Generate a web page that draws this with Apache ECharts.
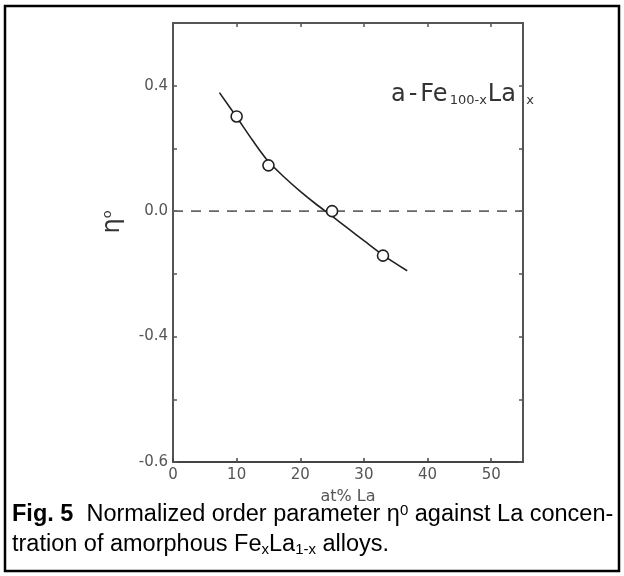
<!DOCTYPE html>
<html>
<head>
<meta charset="utf-8">
<script src="https://cdn.jsdelivr.net/npm/echarts@6/dist/echarts.min.js"></script>
<style>
html,body{margin:0;padding:0;background:#fff;}
#chart{width:624px;height:576px;}
</style>
</head>
<body>
<div id="chart"></div>
<script>
// Measured points (at% La, eta0)
const laConc = [10, 15, 25, 33];
const eta0 = [0.302, 0.146, 0.0, -0.142];
// Hand-drawn fit curve
const fitX = [7.3, 10, 12.5, 15, 17.5, 20, 22.5, 25, 27.5, 30, 33, 36.8];
const fitY = [0.378, 0.300, 0.226, 0.158, 0.108, 0.063, 0.022, -0.016, -0.055, -0.094, -0.140, -0.190];
// Dashed reference line at eta0 = 0
const zeroX = [0, 55];
const zeroY = [0, 0];
// Axis tick labels as printed
const xTickValues = [0, 10, 20, 30, 40, 50];
const xTickLabels = ['0', '10', '20', '30', '40', '50'];
const yTickValues = [0.4, 0.0, -0.4, -0.8];
const yTickLabels = ['0.4', '0.0', '-0.4', '-0.6'];

const chart = echarts.init(document.getElementById('chart'), null, {renderer: 'canvas'});

const axisGray = '#555';
const tickFont = {fontFamily: 'DejaVu Sans', fontSize: 15, color: '#555'};

function xLabel(v) {
  const r = Math.round(v);
  const i = xTickValues.indexOf(r);
  return (i >= 0 && Math.abs(v - r) < 1e-6) ? xTickLabels[i] : '';
}
function yLabel(v) {
  const r = Math.round(v * 10) / 10;
  for (let i = 0; i < yTickValues.length; i++) {
    if (Math.abs(yTickValues[i] - r) < 1e-6 && Math.abs(v - r) < 1e-6) return yTickLabels[i];
  }
  return '';
}

const option = {
  backgroundColor: '#fff',
  animation: false,
  grid: {left: 173, right: 101, top: 23, bottom: 114, containLabel: false},
  xAxis: [
    {
      type: 'value', position: 'bottom', min: 0, max: 55, interval: 10,
      name: 'at% La', nameLocation: 'middle', nameGap: 27,
      nameTextStyle: {fontFamily: 'DejaVu Sans', fontSize: 16, color: '#555'},
      axisLine: {show: true, onZero: false, lineStyle: {color: '#444', width: 2}},
      axisTick: {show: true, inside: true, length: 4, lineStyle: {color: '#444', width: 1.5}},
      axisLabel: Object.assign({margin: 6, formatter: xLabel, showMaxLabel: false}, tickFont),
      splitLine: {show: false}
    },
    {
      type: 'value', position: 'top', min: 0, max: 55, interval: 10,
      axisLine: {show: true, onZero: false, lineStyle: {color: axisGray, width: 2}},
      axisTick: {show: true, inside: true, length: 4, lineStyle: {color: axisGray, width: 1.5}},
      axisLabel: {show: false},
      splitLine: {show: false}
    }
  ],
  yAxis: [
    {
      type: 'value', position: 'left', min: -0.8, max: 0.6, interval: 0.2,
      axisLine: {show: true, onZero: false, lineStyle: {color: axisGray, width: 2}},
      axisTick: {show: true, inside: true, length: 4, lineStyle: {color: axisGray, width: 1.5}},
      axisLabel: Object.assign({margin: 5, formatter: yLabel}, tickFont),
      splitLine: {show: false}
    },
    {
      type: 'value', position: 'right', min: -0.8, max: 0.6, interval: 0.2,
      axisLine: {show: true, onZero: false, lineStyle: {color: axisGray, width: 2}},
      axisTick: {show: true, inside: true, length: 4, lineStyle: {color: axisGray, width: 1.5}},
      axisLabel: {show: false},
      splitLine: {show: false}
    }
  ],
  series: [
    {
      type: 'line', name: 'zero', xAxisIndex: 0, yAxisIndex: 0,
      data: zeroX.map((x, i) => [x, zeroY[i]]),
      showSymbol: false, symbol: 'none',
      lineStyle: {color: '#666', width: 1.8, type: [10, 8]},
      z: 1
    },
    {
      type: 'line', name: 'fit', xAxisIndex: 0, yAxisIndex: 0,
      data: fitX.map((x, i) => [x, fitY[i]]),
      smooth: 0.3, showSymbol: false, symbol: 'none',
      lineStyle: {color: '#222', width: 1.6},
      z: 2
    },
    {
      type: 'scatter', name: 'data', xAxisIndex: 0, yAxisIndex: 0,
      data: laConc.map((x, i) => [x, eta0[i]]),
      symbol: 'circle', symbolSize: 11,
      itemStyle: {color: '#ffffff', opacity: 1, borderColor: '#222', borderWidth: 1.6},
      z: 3
    }
  ],
  graphic: [
    {
      type: 'rect', silent: true,
      shape: {x: 5, y: 6, width: 614, height: 565},
      style: {fill: 'none', stroke: '#000', lineWidth: 2.5}
    },
    {
      type: 'text', silent: true,
      x: 390, y: 95,
      style: {
        text: '{a|a}{a|-}{a|Fe}{s|100-x}{a|La}{s|  x}',
        verticalAlign: 'middle',
        rich: {
          a: {fontFamily: 'DejaVu Sans', fontSize: 24, fill: '#333', color: '#333', padding: [0, 2, 0, 1]},
          s: {fontFamily: 'DejaVu Sans', fontSize: 13, fill: '#333', color: '#333', verticalAlign: 'bottom'}
        }
      }
    },
    {
      type: 'text', silent: true,
      x: 113, y: 222, rotation: Math.PI / 2,
      style: {
        text: '{a|η}{o|o}',
        align: 'center', verticalAlign: 'middle',
        rich: {
          a: {fontFamily: 'DejaVu Sans', fontSize: 24, fill: '#333', color: '#333'},
          o: {fontFamily: 'DejaVu Sans', fontSize: 13, fill: '#333', color: '#333', verticalAlign: 'top'}
        }
      }
    },
    {
      type: 'text', silent: true,
      x: 12, y: 515,
      style: {
        text: '{b|Fig. 5}{n|  Normalized order parameter η}{sup|0}{n| against La concen-}',
        verticalAlign: 'middle',
        rich: {
          b: {fontFamily: 'Liberation Sans', fontWeight: 'bold', fontSize: 23.5, fill: '#000', color: '#000'},
          n: {fontFamily: 'Liberation Sans', fontSize: 23.5, fill: '#000', color: '#000'},
          sup: {fontFamily: 'Liberation Sans', fontSize: 15, fill: '#000', color: '#000', verticalAlign: 'top'}
        }
      }
    },
    {
      type: 'text', silent: true,
      x: 12, y: 545,
      style: {
        text: '{n|tration of amorphous Fe}{sub|x}{n|La}{sub|1-x}{n| alloys.}',
        verticalAlign: 'middle',
        rich: {
          n: {fontFamily: 'Liberation Sans', fontSize: 23.5, fill: '#000', color: '#000'},
          sub: {fontFamily: 'Liberation Sans', fontSize: 15, fill: '#000', color: '#000', verticalAlign: 'bottom'}
        }
      }
    }
  ]
};

chart.setOption(option);
</script>
</body>
</html>
